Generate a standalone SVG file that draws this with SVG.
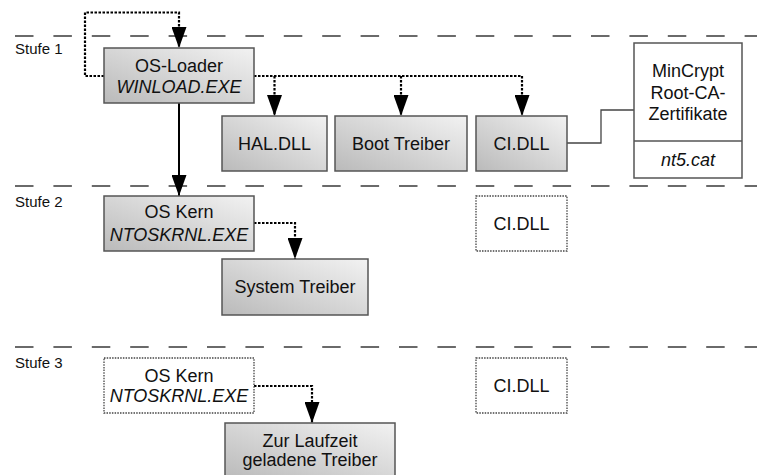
<svg xmlns="http://www.w3.org/2000/svg" width="757" height="475" viewBox="0 0 757 475">
<style>
text{font-family:"Liberation Sans",Arial,sans-serif;font-size:18px;fill:#111;text-anchor:middle}
.it{font-style:italic}
.stufe{font-size:15px;text-anchor:start}
.sep{stroke:#3a3a3a;stroke-width:1.5;stroke-dasharray:18.5 19.9;fill:none}
.box{fill:url(#g);stroke:#555;stroke-width:1.5}
.ghost{fill:#fff;stroke:#444;stroke-width:1.3;stroke-dasharray:1.5 1.2}
.plain{fill:#fff;stroke:#555;stroke-width:1.5}
.dot{fill:none;stroke:#000;stroke-width:2.2;stroke-dasharray:2.5 1.5;marker-end:url(#ah)}
.dotn{fill:none;stroke:#000;stroke-width:2.2;stroke-dasharray:2.5 1.5}
.solid{fill:none;stroke:#000;stroke-width:2;marker-end:url(#ah)}
.thin{fill:none;stroke:#444;stroke-width:1.3}
</style>
<defs>
<linearGradient id="g" x1="0" y1="1" x2="1" y2="0">
<stop offset="0" stop-color="#bababa"/>
<stop offset="1" stop-color="#f2f2f2"/>
</linearGradient>
<marker id="ah" markerUnits="userSpaceOnUse" markerWidth="22" markerHeight="15" refX="21" refY="7.5" orient="auto" viewBox="0 0 22 15">
<path d="M0,0 L21,7.5 L0,15 z" fill="#000"/>
</marker>
</defs>

<g id="separators">
<line class="sep" x1="15" y1="36" x2="757" y2="36"/>
<line class="sep" x1="15" y1="186" x2="757" y2="186"/>
<line class="sep" x1="15" y1="347" x2="757" y2="347"/>
<text class="stufe" x="15" y="54">Stufe 1</text>
<text class="stufe" x="15" y="207">Stufe 2</text>
<text class="stufe" x="15" y="368">Stufe 3</text>
</g>

<g id="connectors">
<polyline class="dot" points="104,76 85,76 85,12.5 179,12.5 179,48"/>
<polyline class="dotn" points="254,76 522,76"/>
<line class="dot" x1="274.5" y1="76" x2="274.5" y2="116"/>
<line class="dot" x1="401" y1="76" x2="401" y2="116"/>
<line class="dot" x1="522" y1="76" x2="522" y2="116"/>
<line class="solid" x1="179" y1="103" x2="179" y2="196"/>
<polyline class="thin" points="567,143 601,143 601,110 634,110"/>
<polyline class="dot" points="254,223 295,223 295,259"/>
<polyline class="dot" points="254,386 312,386 312,423"/>
</g>

<g id="os-loader">
<rect class="box" x="104" y="48" width="150" height="55"/>
<text x="179" y="72">OS-Loader</text>
<text class="it" x="179" y="93">WINLOAD.EXE</text>
</g>
<g id="hal-dll">
<rect class="box" x="222" y="116" width="105" height="55"/>
<text x="274.5" y="150">HAL.DLL</text>
</g>
<g id="boot-treiber">
<rect class="box" x="335" y="116" width="132" height="55"/>
<text x="401" y="150">Boot Treiber</text>
</g>
<g id="ci-dll-1">
<rect class="box" x="476" y="116" width="91" height="55"/>
<text x="521.5" y="150">CI.DLL</text>
</g>
<g id="mincrypt">
<rect class="plain" x="634" y="43" width="108" height="135"/>
<line x1="634" y1="141" x2="742" y2="141" stroke="#555" stroke-width="1.5"/>
<text x="688" y="77">MinCrypt</text>
<text x="688" y="99">Root-CA-</text>
<text x="688" y="120">Zertifikate</text>
<text class="it" x="688" y="166">nt5.cat</text>
</g>
<g id="os-kern-2">
<rect class="box" x="104" y="196" width="150" height="55"/>
<text x="179" y="218">OS Kern</text>
<text class="it" x="179" y="241">NTOSKRNL.EXE</text>
</g>
<g id="system-treiber">
<rect class="box" x="222" y="259" width="146" height="56"/>
<text x="295" y="293">System Treiber</text>
</g>
<g id="ci-dll-2">
<rect class="ghost" x="476" y="196" width="91" height="55"/>
<text x="521.5" y="230">CI.DLL</text>
</g>
<g id="os-kern-3">
<rect class="ghost" x="104" y="358" width="150" height="55"/>
<text x="179" y="382">OS Kern</text>
<text class="it" x="179" y="402">NTOSKRNL.EXE</text>
</g>
<g id="ci-dll-3">
<rect class="ghost" x="476" y="358" width="91" height="55"/>
<text x="521.5" y="392">CI.DLL</text>
</g>
<g id="laufzeit-treiber">
<rect class="box" x="225" y="423" width="170" height="56"/>
<text x="310" y="447">Zur Laufzeit</text>
<text x="310" y="466">geladene Treiber</text>
</g>
</svg>
